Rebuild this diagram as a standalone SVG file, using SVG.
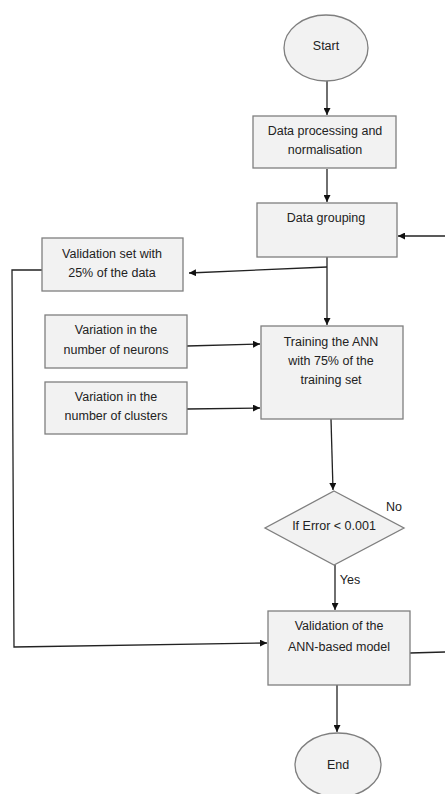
<svg xmlns="http://www.w3.org/2000/svg" width="445" height="794" viewBox="0 0 445 794">
<style>
.n{fill:#f2f2f2;stroke:#7f7f7f;stroke-width:1.3}
.t{font-family:"Liberation Sans",Arial,sans-serif;font-size:12.5px;fill:#222;text-anchor:middle}
.c{fill:none;stroke:#222;stroke-width:1.3}
</style>
<defs>
<marker id="a" viewBox="0 0 10 10" refX="10" refY="5" markerWidth="7" markerHeight="7" orient="auto" markerUnits="userSpaceOnUse">
<path d="M0,0 L10,5 L0,10 z" fill="#111"/>
</marker>
</defs>
<rect width="445" height="794" fill="#fff"/>
<g id="connectors">
<path class="c" d="M327,81 L327,115" marker-end="url(#a)"/>
<path class="c" d="M327,169 L327,202" marker-end="url(#a)"/>
<path class="c" d="M445,236 L398,236" marker-end="url(#a)"/>
<path class="c" d="M327,257 L327,325" marker-end="url(#a)"/>
<path class="c" d="M327,267 L189,273" marker-end="url(#a)"/>
<path class="c" d="M42,270 L12,270 L14,647 L267,643" marker-end="url(#a)"/>
<path class="c" d="M187,346 L260,344" marker-end="url(#a)"/>
<path class="c" d="M187,409 L260,408" marker-end="url(#a)"/>
<path class="c" d="M331,419 L333,490" marker-end="url(#a)"/>
<path class="c" d="M335,565 L335,610" marker-end="url(#a)"/>
<path class="c" d="M410,653 L445,652"/>
<path class="c" d="M337,685 L337,732" marker-end="url(#a)"/>
</g>
<g id="start">
<ellipse class="n" cx="326" cy="48" rx="42" ry="33"/>
<text class="t" x="326" y="50">Start</text>
</g>
<g id="processing">
<rect class="n" x="253" y="116" width="143" height="52"/>
<text class="t" x="325" y="135">Data processing and</text>
<text class="t" x="325" y="154">normalisation</text>
</g>
<g id="grouping">
<rect class="n" x="257" y="203" width="140" height="54"/>
<text class="t" x="326" y="222">Data grouping</text>
</g>
<g id="validationset">
<rect class="n" x="42" y="238" width="141" height="53"/>
<text class="t" x="112" y="258">Validation set with</text>
<text class="t" x="112" y="277">25% of the data</text>
</g>
<g id="neurons">
<rect class="n" x="45" y="315" width="142" height="53"/>
<text class="t" x="116" y="334">Variation in the</text>
<text class="t" x="116" y="354">number of neurons</text>
</g>
<g id="clusters">
<rect class="n" x="45" y="382" width="142" height="52"/>
<text class="t" x="116" y="401">Variation in the</text>
<text class="t" x="116" y="420">number of clusters</text>
</g>
<g id="training">
<rect class="n" x="261" y="326" width="142" height="93"/>
<text class="t" x="331" y="346">Training the ANN</text>
<text class="t" x="331" y="365">with 75% of the</text>
<text class="t" x="331" y="384">training set</text>
</g>
<g id="decision">
<polygon class="n" points="334,491 404,528 334,565 265,528"/>
<text class="t" x="334" y="530">If Error &lt; 0.001</text>
<text class="t" x="394" y="511">No</text>
<text class="t" x="350" y="584">Yes</text>
</g>
<g id="validationmodel">
<rect class="n" x="268" y="611" width="142" height="74"/>
<text class="t" x="339" y="630">Validation of the</text>
<text class="t" x="339" y="651">ANN-based model</text>
</g>
<g id="end">
<ellipse class="n" cx="338" cy="765" rx="43" ry="32"/>
<text class="t" x="338" y="769">End</text>
</g>
</svg>
